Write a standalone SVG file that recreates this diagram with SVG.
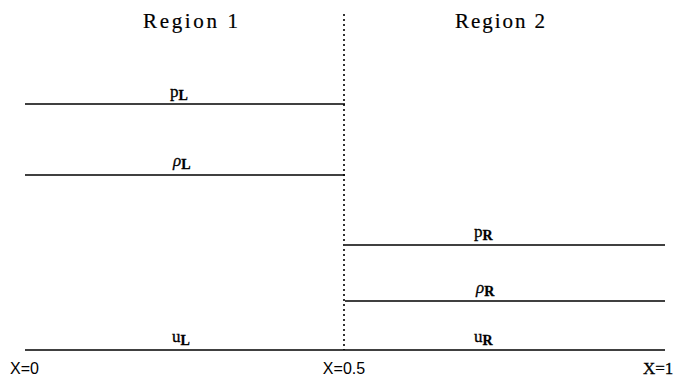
<svg xmlns="http://www.w3.org/2000/svg" width="680" height="378" viewBox="0 0 680 378">
<style>
.ln{stroke:#000;stroke-width:1.6;fill:none}
.t{font-family:"Liberation Serif",serif;font-size:21px;fill:#000;stroke:#000;stroke-width:0.2}
.s{font-family:"Liberation Serif",serif;font-size:17px;fill:#000;stroke:#000;stroke-width:0.3}
.sub{font-size:14px;font-weight:bold}
.ax{font-family:"Liberation Sans",sans-serif;font-size:16px;fill:#000}
</style>
<rect width="680" height="378" fill="#fff"/>
<g id="connectors">
<line class="ln" x1="25" y1="104" x2="345" y2="104"/>
<line class="ln" x1="25" y1="175" x2="345" y2="175"/>
<line class="ln" x1="345" y1="245" x2="665" y2="245"/>
<line class="ln" x1="345" y1="301" x2="665" y2="301"/>
<line class="ln" x1="25" y1="350" x2="665" y2="350"/>
<line x1="344" y1="14" x2="344" y2="350" stroke="#000" stroke-width="1.6" stroke-dasharray="2,3"/>
</g>
<g id="region1"><text class="t" x="143" y="28" textLength="95" lengthAdjust="spacing">Region  1</text></g>
<g id="region2"><text class="t" x="455" y="28" textLength="90" lengthAdjust="spacing">Region  2</text></g>
<g id="pL"><text class="s" x="170" y="97">p<tspan class="sub" dy="3">L</tspan></text></g>
<g id="rhoL"><text class="s" x="173" y="166" font-style="italic">ρ<tspan class="sub" dy="3" font-style="normal">L</tspan></text></g>
<g id="pR"><text class="s" x="474" y="237">p<tspan class="sub" dy="3">R</tspan></text></g>
<g id="rhoR"><text class="s" x="476" y="293" font-style="italic">ρ<tspan class="sub" dy="3" font-style="normal">R</tspan></text></g>
<g id="uL"><text class="s" x="172" y="342">u<tspan class="sub" dy="3">L</tspan></text></g>
<g id="uR"><text class="s" x="474" y="342">u<tspan class="sub" dy="3">R</tspan></text></g>
<g id="x0"><text class="ax" x="10" y="374">X=0</text></g>
<g id="x05"><text class="ax" x="344" y="374" text-anchor="middle">X=0.5</text></g>
<g id="x1"><text class="s" x="643" y="374">X=1</text></g>
</svg>
